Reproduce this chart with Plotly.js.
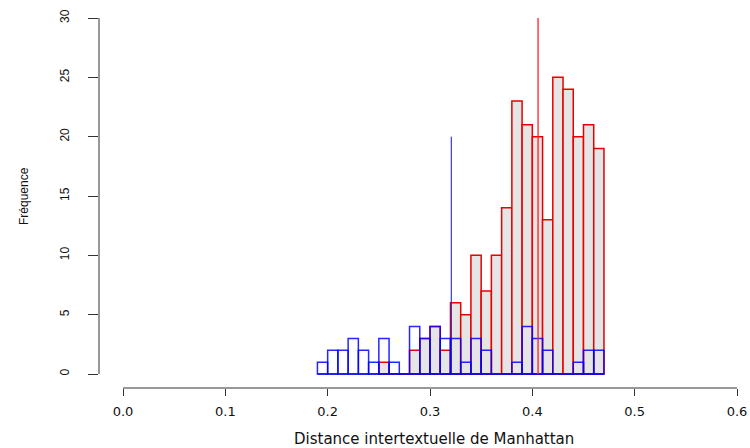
<!DOCTYPE html>
<html>
<head>
<meta charset="utf-8">
<script src="https://cdn.plot.ly/plotly-3.0.1.min.js"></script>
<style>html,body{margin:0;padding:0;background:#fff;}#chart{width:750px;height:448px;}</style>
</head>
<body>
<div id="chart"></div>
<script>
// Histogram bins (width 0.01), left edge of first bin for each series
const binWidth = 0.01;
const redStart = 0.25;
const redCounts = [1, 0, 0, 2, 3, 4, 2, 6, 5, 10, 7, 10, 14, 23, 21, 20, 13, 25, 24, 20, 21, 19];
const blueStart = 0.19;
const blueCounts = [1, 2, 2, 3, 2, 1, 3, 1, 0, 4, 3, 4, 3, 3, 1, 3, 2, 0, 0, 1, 4, 3, 2, 0, 0, 1, 2, 2];
// Mean markers (vertical lines)
const redMean = 0.4056;
const redMeanHeight = 30;
const blueMean = 0.3208;
const blueMeanHeight = 20;
// Axis ticks
const xTicks = [0.0, 0.1, 0.2, 0.3, 0.4, 0.5, 0.6];
const xTickLabels = ["0.0", "0.1", "0.2", "0.3", "0.4", "0.5", "0.6"];
const yTicks = [0, 5, 10, 15, 20, 25, 30];
const xTitle = "Distance intertextuelle de Manhattan";
const yTitle = "Fréquence";

function centers(start, counts) {
  return counts.map((_, i) => +(start + binWidth * (i + 0.5)).toFixed(4));
}

const redColor = '#E80000';
const blueColor = 'rgba(0,0,255,0.85)';

const traces = [
  {
    type: 'bar', x: centers(redStart, redCounts), y: redCounts, width: binWidth,
    marker: {color: '#E5E5E5', line: {color: redColor, width: 1.5}},
    hoverinfo: 'x+y'
  },
  {
    type: 'bar', x: centers(blueStart, blueCounts), y: blueCounts, width: binWidth,
    marker: {color: 'rgba(0,0,0,0)', line: {color: blueColor, width: 1.5}},
    hoverinfo: 'x+y'
  },
  {
    type: 'scatter', mode: 'lines',
    x: [blueStart, blueStart + binWidth * blueCounts.length], y: [0, 0],
    line: {color: blueColor, width: 1.5}, hoverinfo: 'skip'
  },
  {
    type: 'scatter', mode: 'lines', x: [blueMean, blueMean], y: [0, blueMeanHeight],
    line: {color: '#1010D0', width: 1}, hoverinfo: 'skip'
  },
  {
    type: 'scatter', mode: 'lines', x: [redMean, redMean], y: [0, redMeanHeight],
    line: {color: '#FF2020', width: 1.3}, hoverinfo: 'skip'
  }
];

const layout = {
  width: 750, height: 448,
  margin: {l: 99, r: 13, t: 18, b: 60, pad: 0},
  paper_bgcolor: '#fff', plot_bgcolor: '#fff',
  showlegend: false,
  barmode: 'overlay',
  xaxis: {
    range: [-0.02345, 0.6],
    tickvals: xTicks, ticktext: xTickLabels,
    ticks: 'outside', ticklen: 7, tickwidth: 1, tickcolor: '#333',
    showline: false, showgrid: false, zeroline: false,
    tickfont: {family: 'DejaVu Sans', size: 13, color: '#111'},
    ticklabelstandoff: 4
  },
  yaxis: {
    range: [-1.18, 30],
    tickvals: yTicks,
    ticks: 'outside', ticklen: 10, tickwidth: 1, tickcolor: '#333',
    showline: false, showgrid: false, zeroline: false,
    tickangle: -90,
    tickfont: {family: 'Liberation Sans', size: 12, color: '#111'},
    ticklabelstandoff: 14
  },
  shapes: [
    {type: 'line', xref: 'x', yref: 'paper', x0: xTicks[0], x1: xTicks[xTicks.length - 1], y0: 0, y1: 0,
     line: {color: '#333', width: 1}},
    {type: 'line', xref: 'paper', yref: 'y', x0: 0, x1: 0, y0: yTicks[0], y1: yTicks[yTicks.length - 1],
     line: {color: '#333', width: 1}}
  ],
  annotations: [
    {text: xTitle, xref: 'x', yref: 'paper', x: 0.3, y: 0, yshift: -51, xshift: 4,
     showarrow: false, xanchor: 'center', yanchor: 'middle',
     font: {family: 'DejaVu Sans', size: 15, color: '#111'}},
    {text: yTitle, xref: 'paper', yref: 'y', x: 0, y: 15, xshift: -75,
     showarrow: false, textangle: -90, xanchor: 'center', yanchor: 'middle',
     font: {family: 'Liberation Sans', size: 12, color: '#111'}}
  ]
};

Plotly.newPlot('chart', traces, layout, {staticPlot: true, displayModeBar: false});
</script>
</body>
</html>
